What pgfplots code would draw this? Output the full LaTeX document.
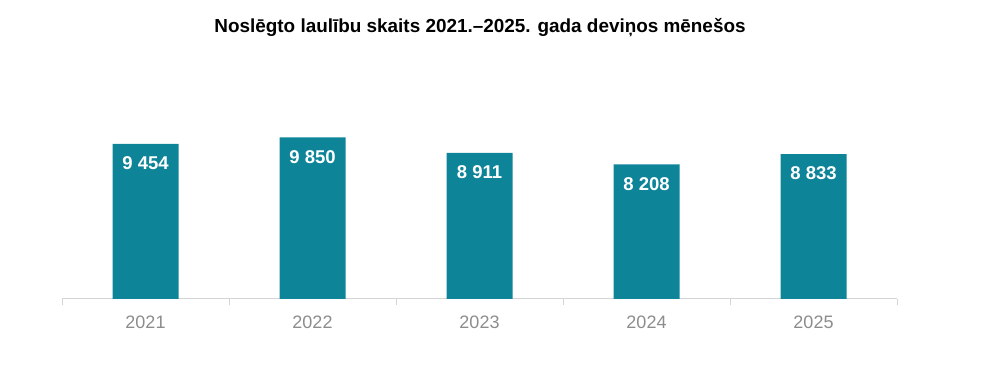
\documentclass[border=0pt]{standalone}
\usepackage{pgfplots}
\pgfplotsset{compat=1.18}
\usepackage{fontspec}
\setmainfont{Liberation Sans}
\definecolor{barc}{HTML}{0E8499}
\definecolor{axc}{HTML}{D4D4D4}
\definecolor{tkc}{HTML}{8C8C8C}
\begin{document}
\begin{tikzpicture}[x=1pt,y=1pt]
\path[use as bounding box] (0,0) rectangle (1000,369);
\node[font=\fontsize{18.9}{20}\selectfont\bfseries, anchor=center] at (480,341) {Noslēgto laulību skaits 2021.–2025. gada deviņos mēnešos};
\begin{axis}[
  at={(62pt,70pt)}, anchor=south west,
  scale only axis, width=835pt, height=196.8pt,
  xmin=-0.5, xmax=4.5, ymin=0, ymax=12000,
  axis x line*=bottom, axis y line=none,
  x axis line style={axc, line width=1pt, -},
  xtick={-0.5,0.5,1.5,2.5,3.5,4.5},
  x tick label as interval,
  xticklabels={2021,2022,2023,2024,2025},
  major tick length=6pt, tick align=outside,
  x tick style={axc, line width=1pt},
  ytick=\empty,
  x tick label style={font=\fontsize{18}{20}\selectfont, text=tkc, yshift=-7pt},
  /pgf/number format/assume math mode=true,
  /pgf/number format/1000 sep={\ },
  nodes near coords,
  every node near coord/.append style={font=\fontsize{18.5}{20}\selectfont\bfseries, text=white, anchor=north, inner sep=0pt, yshift=-12.5pt},
  clip=false,
]
\addplot[ybar, bar width=66pt, fill=barc, draw=none] coordinates {(0,9454) (1,9850) (2,8911) (3,8208) (4,8833)};
\end{axis}
\end{tikzpicture}
\end{document}
